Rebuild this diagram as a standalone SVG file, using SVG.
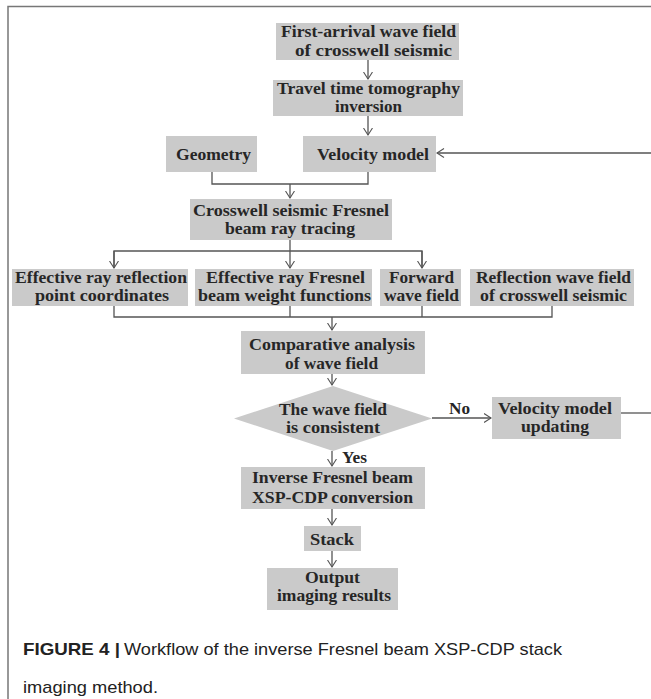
<svg xmlns="http://www.w3.org/2000/svg" width="651" height="699" viewBox="0 0 651 699">
<style>
.box{fill:#cacaca;}
.t{font-family:"Liberation Serif","Times New Roman",serif;font-weight:bold;font-size:16px;fill:#262626;}
.c{fill:none;stroke:#555;stroke-width:1.3;}
.cap{font-family:"Liberation Sans",Arial,sans-serif;font-size:17px;fill:#222;}
</style>
<defs>
<marker id="ah" markerUnits="userSpaceOnUse" markerWidth="12" markerHeight="12" refX="7.5" refY="5" orient="auto">
<path d="M0.5,0.5 L7.5,5 L0.5,9.5" fill="none" stroke="#555" stroke-width="1.1"/>
</marker>
</defs>
<rect width="651" height="699" fill="#fff"/>
<path d="M8,699 V6.5 H651" fill="none" stroke="#777" stroke-width="1.5"/>

<g id="n1"><rect class="box" x="276" y="23" width="183" height="37"/>
<text class="t" x="281" y="37" textLength="175" lengthAdjust="spacingAndGlyphs">First-arrival wave field</text>
<text class="t" x="295" y="56" textLength="157" lengthAdjust="spacingAndGlyphs">of crosswell seismic</text></g>

<g id="n2"><rect class="box" x="273" y="80" width="190" height="36"/>
<text class="t" x="277" y="94" textLength="183" lengthAdjust="spacingAndGlyphs">Travel time tomography</text>
<text class="t" x="335" y="112" textLength="67" lengthAdjust="spacingAndGlyphs">inversion</text></g>

<g id="n3"><rect class="box" x="166" y="136" width="91" height="36"/>
<text class="t" x="176" y="160" textLength="75" lengthAdjust="spacingAndGlyphs">Geometry</text></g>

<g id="n4"><rect class="box" x="303" y="136" width="133" height="36"/>
<text class="t" x="317" y="160" textLength="112" lengthAdjust="spacingAndGlyphs">Velocity model</text></g>

<g id="n5"><rect class="box" x="190" y="199" width="202" height="41"/>
<text class="t" x="193" y="216" textLength="196" lengthAdjust="spacingAndGlyphs">Crosswell seismic Fresnel</text>
<text class="t" x="225" y="234" textLength="130" lengthAdjust="spacingAndGlyphs">beam ray tracing</text></g>

<g id="n6"><rect class="box" x="12" y="269" width="176" height="37"/>
<text class="t" x="15" y="283" textLength="172" lengthAdjust="spacingAndGlyphs">Effective ray reflection</text>
<text class="t" x="35" y="301" textLength="134" lengthAdjust="spacingAndGlyphs">point coordinates</text></g>

<g id="n7"><rect class="box" x="195" y="269" width="177" height="37"/>
<text class="t" x="206" y="283" textLength="159" lengthAdjust="spacingAndGlyphs">Effective ray Fresnel</text>
<text class="t" x="198" y="301" textLength="173" lengthAdjust="spacingAndGlyphs">beam weight functions</text></g>

<g id="n8"><rect class="box" x="380" y="269" width="81" height="37"/>
<text class="t" x="389" y="283" textLength="65" lengthAdjust="spacingAndGlyphs">Forward</text>
<text class="t" x="384" y="301" textLength="75" lengthAdjust="spacingAndGlyphs">wave field</text></g>

<g id="n9"><rect class="box" x="470" y="269" width="164" height="37"/>
<text class="t" x="476" y="283" textLength="155" lengthAdjust="spacingAndGlyphs">Reflection wave field</text>
<text class="t" x="480" y="301" textLength="147" lengthAdjust="spacingAndGlyphs">of crosswell seismic</text></g>

<g id="n10"><rect class="box" x="241" y="331" width="184" height="43"/>
<text class="t" x="249" y="350" textLength="166" lengthAdjust="spacingAndGlyphs">Comparative analysis</text>
<text class="t" x="285" y="369" textLength="93" lengthAdjust="spacingAndGlyphs">of wave field</text></g>

<g id="n11"><polygon class="box" points="234,418.5 333,386 432,418.5 333,451"/>
<text class="t" x="279" y="415" textLength="108" lengthAdjust="spacingAndGlyphs">The wave field</text>
<text class="t" x="286" y="433" textLength="94" lengthAdjust="spacingAndGlyphs">is consistent</text></g>

<g id="n12"><rect class="box" x="492" y="397" width="129" height="42"/>
<text class="t" x="498" y="414" textLength="114" lengthAdjust="spacingAndGlyphs">Velocity model</text>
<text class="t" x="521" y="432" textLength="68" lengthAdjust="spacingAndGlyphs">updating</text></g>

<g id="n13"><rect class="box" x="241" y="467" width="184" height="42"/>
<text class="t" x="252" y="483" textLength="161" lengthAdjust="spacingAndGlyphs">Inverse Fresnel beam</text>
<text class="t" x="252" y="503" textLength="161" lengthAdjust="spacingAndGlyphs">XSP-CDP conversion</text></g>

<g id="n14"><rect class="box" x="304" y="526" width="57" height="25"/>
<text class="t" x="310" y="545" textLength="44" lengthAdjust="spacingAndGlyphs">Stack</text></g>

<g id="n15"><rect class="box" x="267" y="568" width="131" height="42"/>
<text class="t" x="305" y="583" textLength="55" lengthAdjust="spacingAndGlyphs">Output</text>
<text class="t" x="277" y="601" textLength="114" lengthAdjust="spacingAndGlyphs">imaging results</text></g>

<g id="connectors">
<path class="c" d="M368,60 V79" marker-end="url(#ah)"/>
<path class="c" d="M368,116 V135" marker-end="url(#ah)"/>
<path class="c" d="M651,153 H437" marker-end="url(#ah)"/>
<path class="c" d="M212,172 V184 H368 V172"/>
<path class="c" d="M290,184 V198" marker-end="url(#ah)"/>
<path class="c" d="M290,240 V251"/>
<path class="c" d="M114,268 V251 H422 V268"/>
<path class="c" d="M114,251 V268" marker-end="url(#ah)"/>
<path class="c" d="M290,251 V268" marker-end="url(#ah)"/>
<path class="c" d="M422,251 V268" marker-end="url(#ah)"/>
<path class="c" d="M114,306 V317 H552 V306"/>
<path class="c" d="M290,306 V317 M422,306 V317"/>
<path class="c" d="M332,317 V330" marker-end="url(#ah)"/>
<path class="c" d="M332,374 V385" marker-end="url(#ah)"/>
<path class="c" d="M432,418 H491" marker-end="url(#ah)"/>
<path class="c" d="M621,413 H651"/>
<path class="c" d="M332,451 V466" marker-end="url(#ah)"/>
<path class="c" d="M332,509 V525" marker-end="url(#ah)"/>
<path class="c" d="M332,551 V567" marker-end="url(#ah)"/>
<text class="t" x="449" y="414" textLength="21" lengthAdjust="spacingAndGlyphs">No</text>
<text class="t" x="342" y="463" textLength="25" lengthAdjust="spacingAndGlyphs">Yes</text>
</g>

<text class="cap" x="23" y="655" font-weight="bold" textLength="97" lengthAdjust="spacingAndGlyphs">FIGURE 4 |</text>
<text class="cap" x="124" y="655" textLength="438" lengthAdjust="spacingAndGlyphs">Workflow of the inverse Fresnel beam XSP-CDP stack</text>
<text class="cap" x="23" y="693" textLength="135" lengthAdjust="spacingAndGlyphs">imaging method.</text>
</svg>
